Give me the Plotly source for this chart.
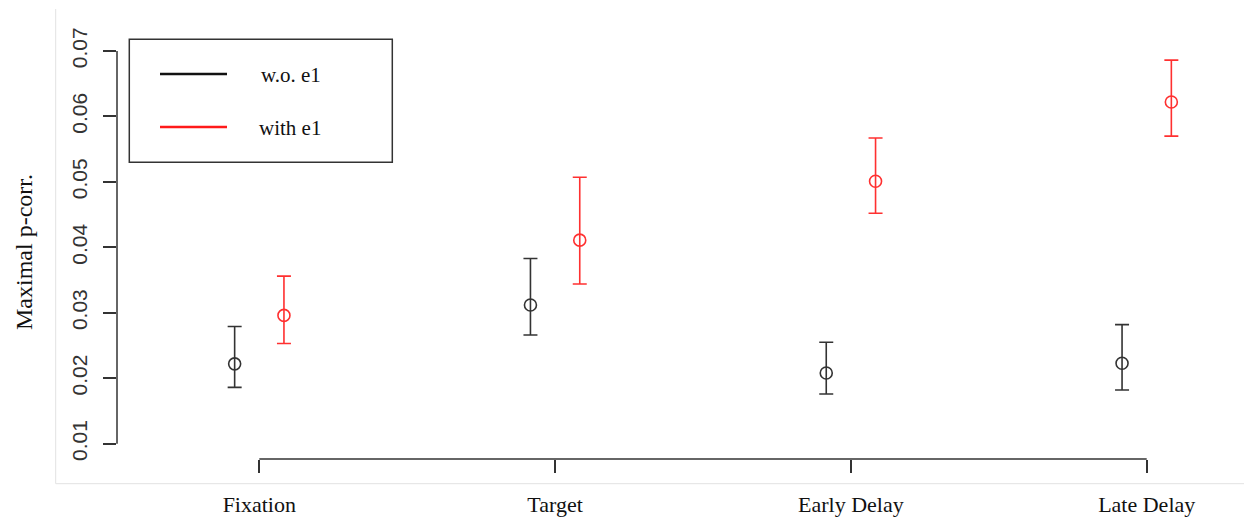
import plotly.graph_objects as go

categories = ["Fixation", "Target", "Early Delay", "Late Delay"]

wo_mean = [0.0222, 0.0312, 0.0208, 0.0223]
wo_upper = [0.0279, 0.0383, 0.0255, 0.0282]
wo_lower = [0.0186, 0.0266, 0.0176, 0.0182]

with_mean = [0.0296, 0.0411, 0.0501, 0.0622]
with_upper = [0.0356, 0.0507, 0.0567, 0.0686]
with_lower = [0.0253, 0.0344, 0.0452, 0.0570]

y_ticks = [0.01, 0.02, 0.03, 0.04, 0.05, 0.06, 0.07]
y_ticktext = ["0.01", "0.02", "0.03", "0.04", "0.05", "0.06", "0.07"]

BLACK = "#333333"
RED = "#ff3030"
AXIS = "#333333"

idx = list(range(1, len(categories) + 1))
off = 1 / 12

fig = go.Figure()

def add_series(means, ups, lows, color, sign, name):
    fig.add_trace(go.Scatter(
        x=[i + sign * off for i in idx],
        y=means,
        mode="markers",
        name=name,
        marker=dict(symbol="circle-open", size=12, color=color, line=dict(width=1.6, color=color)),
        error_y=dict(type="data", symmetric=False,
                     array=[u - m for u, m in zip(ups, means)],
                     arrayminus=[m - l for m, l in zip(means, lows)],
                     width=7, thickness=1.6, color=color),
        showlegend=False,
        cliponaxis=False,
    ))

add_series(wo_mean, wo_upper, wo_lower, BLACK, -1, "w.o. e1")
add_series(with_mean, with_upper, with_lower, RED, 1, "with e1")

W, H = 1244, 521
L, R, T, B = 117, 44, 39, 62
pw = W - L - R
ph = H - T - B

def px(x):
    return (x - L) / pw

def py(y):
    return (H - B - y) / ph

shapes = []
# R-style axis lines
shapes.append(dict(type="line", xref="paper", yref="y", x0=0, x1=0, y0=y_ticks[0], y1=y_ticks[-1],
                   line=dict(color=AXIS, width=1.5)))
shapes.append(dict(type="line", xref="x", yref="paper", x0=idx[0], x1=idx[-1], y0=0, y1=0,
                   line=dict(color=AXIS, width=1.5)))
# light frame
shapes.append(dict(type="line", xref="paper", yref="paper", x0=px(55.7), x1=px(55.7), y0=py(9), y1=py(483.7),
                   line=dict(color="#e2e2e2", width=1)))
shapes.append(dict(type="line", xref="paper", yref="paper", x0=px(55.7), x1=px(1244), y0=py(483.7), y1=py(483.7),
                   line=dict(color="#e2e2e2", width=1)))
# legend box
shapes.append(dict(type="rect", xref="paper", yref="paper", x0=px(129.3), x1=px(392.3), y0=py(162.3), y1=py(39.3),
                   line=dict(color=AXIS, width=1.5), fillcolor="rgba(0,0,0,0)"))
shapes.append(dict(type="line", xref="paper", yref="paper", x0=px(160), x1=px(227), y0=py(74), y1=py(74),
                   line=dict(color="#111111", width=2.5)))
shapes.append(dict(type="line", xref="paper", yref="paper", x0=px(160), x1=px(227), y0=py(127), y1=py(127),
                   line=dict(color="#ff1a1a", width=2.5)))

annotations = [
    dict(text="w.o. e1", xref="paper", yref="paper", x=px(259), y=py(75), xanchor="left", yanchor="middle",
         showarrow=False, font=dict(family="Liberation Serif", size=21, color="#111111")),
    dict(text="with e1", xref="paper", yref="paper", x=px(257), y=py(128), xanchor="left", yanchor="middle",
         showarrow=False, font=dict(family="Liberation Serif", size=21, color="#111111")),
    dict(text="Maximal p-corr.", xref="paper", yref="paper", x=px(24), y=py(252), xanchor="center", yanchor="middle",
         textangle=-90, showarrow=False, font=dict(family="Liberation Serif", size=24, color="#111111")),
]

y0 = 0.01 - (459 - 443.7) / 6545
y1 = 0.07 + (51 - 39) / 6545
x0 = 1 - (259.3 - L) / 295.8
x1 = 4 + (W - R - 1146.7) / 295.8

fig.update_layout(
    width=W, height=H, autosize=False,
    margin=dict(l=L, r=R, t=T, b=B, pad=0, autoexpand=False),
    paper_bgcolor="white", plot_bgcolor="white",
    shapes=shapes, annotations=annotations,
    xaxis=dict(range=[x0, x1], showgrid=False, zeroline=False, showline=False, automargin=False,
               tickmode="array", tickvals=idx, ticktext=categories,
               ticks="outside", ticklen=13, tickwidth=1.5, tickcolor=AXIS,
               tickfont=dict(family="Liberation Serif", size=22, color="#111111"),
               ticklabelstandoff=13),
    yaxis=dict(range=[y0, y1], showgrid=False, zeroline=False, showline=False, automargin=False,
               tickmode="array", tickvals=y_ticks, ticktext=y_ticktext,
               ticks="outside", ticklen=13, tickwidth=1.5, tickcolor=AXIS, tickangle=-90,
               tickfont=dict(family="Liberation Sans", size=21, color="#333333"),
               ticklabelstandoff=8),
)

fig.write_html("out.html")
